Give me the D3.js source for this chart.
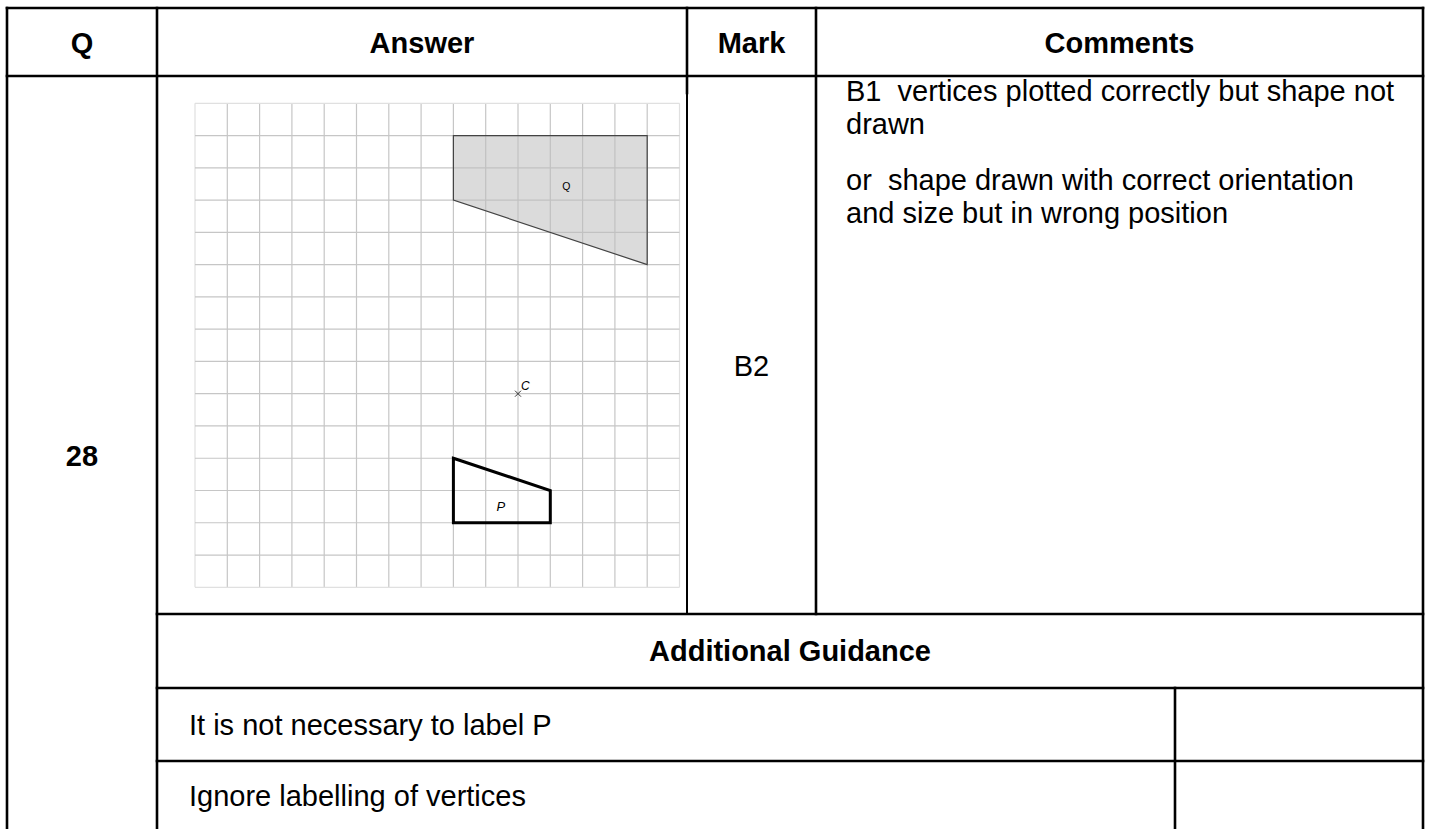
<!DOCTYPE html>
<html>
<head>
<meta charset="utf-8">
<script src="https://cdn.jsdelivr.net/npm/d3@7"></script>
<style>
  html, body { margin: 0; padding: 0; background: #fff; }
  svg { display: block; }
  text { font-family: "Liberation Sans", Arial, sans-serif; fill: #000; white-space: pre; }
</style>
</head>
<body>
<svg id="chart" width="1430" height="829"></svg>
<script>
// ---------- data ----------
const headers = ["Q", "Answer", "Mark", "Comments"];
const questionNumber = "28";
const markText = "B2";
const commentLines = ["B1  vertices plotted correctly but shape not", "drawn"];
const commentLines2 = ["or  shape drawn with correct orientation", "and size but in wrong position"];
const guidanceTitle = "Additional Guidance";
const guidanceRows = ["It is not necessary to label P", "Ignore labelling of vertices"];

const gridCells = 15;                       // 15 x 15 squares
const shapeP = [[8, 4], [11, 3], [11, 2], [8, 2]];      // grid units, y up
const shapeQ = [[8, 14], [14, 14], [14, 10], [8, 12]];
const centreC = [10, 6];
const labelP = [9.47, 2.5];
const labelQ = [11.5, 12.45];

// ---------- layout ----------
const svg = d3.select("#chart");
const colX = [7, 157, 687, 816, 1423];
const topY = 8, headY = 76, guideTop = 614, guideMid = 688, guideRow2 = 761, bottomY = 829;
const lineW = 2.6;
const fs = 29;

// grid scales
const gx = d3.scaleLinear().domain([0, gridCells]).range([195, 679.5]);
const gy = d3.scaleLinear().domain([0, gridCells]).range([587.3, 103.3]);

const grid = svg.append("g");
const ticks = d3.range(0, gridCells + 1);
grid.selectAll("line.v").data(ticks).join("line")
  .attr("x1", d => gx(d)).attr("x2", d => gx(d))
  .attr("y1", gy(0)).attr("y2", gy(gridCells))
  .attr("stroke", d => (d === 0 || d === gridCells) ? "#e0e0e0" : "#c6c6c6")
  .attr("stroke-width", 1.2);
grid.selectAll("line.h").data(ticks).join("line")
  .attr("y1", d => gy(d)).attr("y2", d => gy(d))
  .attr("x1", gx(0)).attr("x2", gx(gridCells))
  .attr("stroke", d => (d === 0 || d === gridCells) ? "#e0e0e0" : "#c6c6c6")
  .attr("stroke-width", 1.2);

const lineGen = d3.line().x(d => gx(d[0])).y(d => gy(d[1])).curve(d3.curveLinearClosed);

// Q (shaded image)
grid.append("path").attr("d", lineGen(shapeQ))
  .attr("fill", "#bdbdbd").attr("fill-opacity", 0.55)
  .attr("stroke", "#444").attr("stroke-width", 1.2);
grid.append("text").attr("x", gx(labelQ[0])).attr("y", gy(labelQ[1]))
  .attr("text-anchor", "middle").attr("dominant-baseline", "central")
  .attr("font-size", 10.5).text("Q");

// P
grid.append("path").attr("d", lineGen(shapeP))
  .attr("fill", "none").attr("stroke", "#000").attr("stroke-width", 3)
  .attr("stroke-linejoin", "miter");
grid.append("text").attr("x", gx(labelP[0])).attr("y", gy(labelP[1]))
  .attr("text-anchor", "middle").attr("dominant-baseline", "central")
  .attr("font-size", 13).attr("font-style", "italic").text("P");

// centre C
const cx = gx(centreC[0]), cy = gy(centreC[1]), a = 3;
grid.append("path").attr("d", `M${cx - a},${cy - a}L${cx + a},${cy + a}M${cx - a},${cy + a}L${cx + a},${cy - a}`)
  .attr("stroke", "#333").attr("stroke-width", 1);
grid.append("text").attr("x", cx + 3).attr("y", cy - 4)
  .attr("font-size", 12).attr("font-style", "italic").text("C");

// ---------- table lines ----------
const tl = svg.append("g").attr("stroke", "#000").attr("stroke-width", lineW).attr("stroke-linecap", "square");
const hLines = [
  [colX[0], colX[4], topY],
  [colX[0], colX[4], headY],
  [colX[1], colX[4], guideTop],
  [colX[1], colX[4], guideMid],
  [colX[1], colX[4], guideRow2]
];
tl.selectAll("line.h").data(hLines).join("line")
  .attr("x1", d => d[0]).attr("x2", d => d[1]).attr("y1", d => d[2]).attr("y2", d => d[2]);
const vLines = [
  [colX[0], topY, bottomY + 5, lineW],
  [colX[1], topY, bottomY + 5, lineW],
  [colX[2], topY, 93, lineW],
  [colX[2], 93, guideTop, 2],
  [colX[3], topY, guideTop, lineW],
  [colX[4], topY, bottomY + 5, lineW],
  [1175, guideMid, bottomY + 5, lineW]
];
tl.selectAll("line.v").data(vLines).join("line")
  .attr("x1", d => d[0]).attr("x2", d => d[0]).attr("y1", d => d[1]).attr("y2", d => d[2])
  .attr("stroke-width", d => d[3]);

// ---------- text ----------
svg.selectAll("text.hdr").data(headers).join("text")
  .attr("x", (d, i) => (colX[i] + colX[i + 1]) / 2).attr("y", 53)
  .attr("text-anchor", "middle")
  .attr("font-size", fs).attr("font-weight", "bold").text(d => d);

svg.append("text").attr("x", (colX[0] + colX[1]) / 2).attr("y", 466)
  .attr("text-anchor", "middle")
  .attr("font-size", fs).attr("font-weight", "bold").text(questionNumber);

svg.append("text").attr("x", (colX[2] + colX[3]) / 2).attr("y", 376)
  .attr("text-anchor", "middle")
  .attr("font-size", fs).text(markText);

const cmt = svg.append("g");
cmt.selectAll("text.c1").data(commentLines).join("text")
  .attr("x", 846).attr("y", (d, i) => 101 + i * 33)
  .attr("font-size", fs).text(d => d);
cmt.selectAll("text.c2").data(commentLines2).join("text")
  .attr("x", 846).attr("y", (d, i) => 190 + i * 33)
  .attr("font-size", fs).text(d => d);

svg.append("text").attr("x", (colX[1] + colX[4]) / 2).attr("y", 661)
  .attr("text-anchor", "middle")
  .attr("font-size", fs).attr("font-weight", "bold").text(guidanceTitle);

svg.selectAll("text.g").data(guidanceRows).join("text")
  .attr("x", 189).attr("y", (d, i) => [735, 806][i])
  .attr("font-size", fs).text(d => d);
</script>
</body>
</html>
